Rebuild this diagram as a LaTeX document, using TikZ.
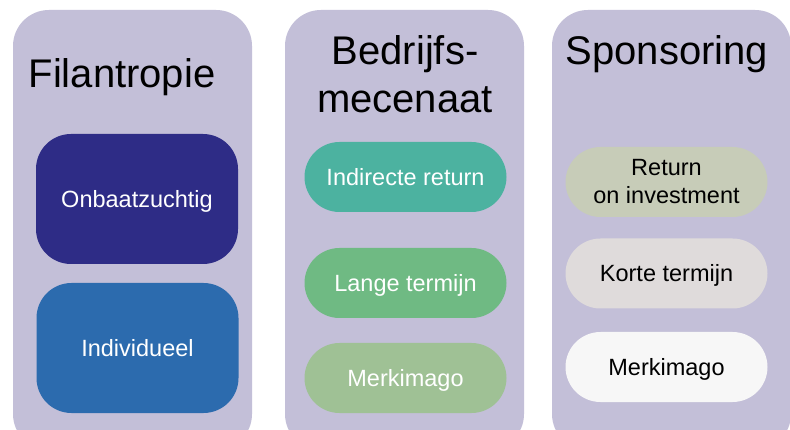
\documentclass[tikz,border=0pt]{standalone}
\usepackage{fontspec}
\setmainfont{Liberation Sans}
\definecolor{lav}{HTML}{C3BFD8}
\definecolor{navy}{HTML}{2E2C86}
\definecolor{midblue}{HTML}{2C6BAE}
\definecolor{teal}{HTML}{4CB2A0}
\definecolor{mgreen}{HTML}{6FBA83}
\definecolor{lgreen}{HTML}{9FC195}
\definecolor{sage}{HTML}{C7CCB8}
\definecolor{lgrey}{HTML}{DFDBDB}
\definecolor{offwhite}{HTML}{F7F7F7}
\begin{document}
\begin{tikzpicture}[x=1pt,y=-1pt,
  col/.style={fill=lav, draw=none, rounded corners=36pt, minimum width=239pt, minimum height=440pt, inner sep=0pt},
  title/.style={font=\fontsize{40}{48}\selectfont, text=black, align=center, inner sep=0pt, anchor=base},
  box/.style={draw=none, rounded corners=35pt, minimum width=202pt, inner sep=0pt, align=center, font=\fontsize{23.5}{28}\selectfont},
  oneline/.style={text height=16.8pt, text depth=0pt},
  pill/.style={box, minimum height=70pt},
  big/.style={box, minimum height=130pt},
]
\useasboundingbox (0,0) rectangle (790,430);
\clip (0,0) rectangle (790,430);
\fill[white] (0,0) rectangle (790,430);
% columns
\node[col] (c1) at (132.5,230) {};
\node[col] (c2) at (404.5,230) {};
\node[col] (c3) at (671.5,230) {};
% titles
\node[title] (t1) at (122,88) {Filantropie};
\node[title] (t2a) at (405,65) {Bedrijfs-};
\node[title] (t2b) at (405,113) {mecenaat};
\node[title] (t3) at (667,65) {Sponsoring};
% column 1
\node[big, oneline, fill=navy, text=white] (onb) at (137,199) {Onbaatzuchtig};
\node[big, oneline, fill=midblue, text=white] (ind) at (137.5,348) {Individueel};
% column 2
\node[pill, oneline, fill=teal, text=white] (irt) at (405.5,177) {Indirecte return};
\node[pill, oneline, fill=mgreen, text=white] (lt) at (405.5,283) {Lange termijn};
\node[pill, oneline, fill=lgreen, text=white] (mk2) at (405.5,378) {Merkimago};
% column 3
\node[pill, fill=sage, text=black] (roi) at (666.5,182) {Return\\on investment};
\node[pill, oneline, fill=lgrey, text=black] (kt) at (666.5,273.5) {Korte termijn};
\node[pill, oneline, fill=offwhite, text=black] (mk3) at (666.5,367) {Merkimago};
\end{tikzpicture}
\end{document}
